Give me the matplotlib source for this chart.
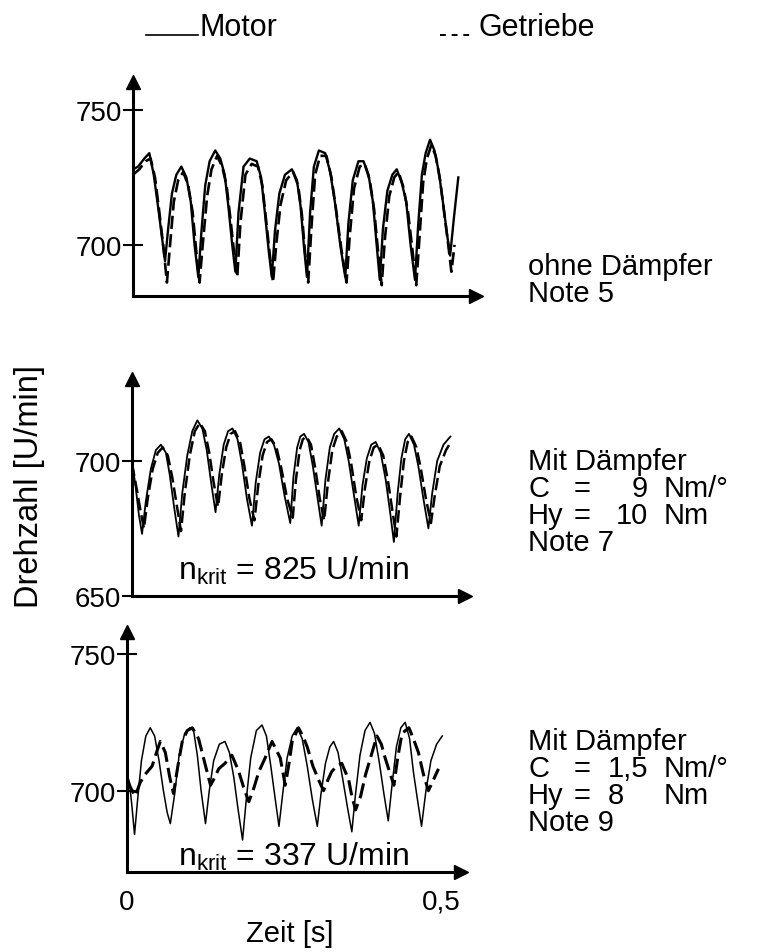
import matplotlib.pyplot as plt

plt.rcParams['font.family'] = ['Liberation Sans', 'DejaVu Sans']

# --- Panel 1: ohne Daempfer ---
t1_motor = [0.000, 0.008, 0.018, 0.026, 0.033, 0.040, 0.046, 0.051, 0.056, 0.062, 0.069, 0.077, 0.085, 0.092, 0.098,
            0.104, 0.109, 0.115, 0.122, 0.131, 0.139, 0.146, 0.152, 0.158, 0.163, 0.168, 0.176, 0.186, 0.197, 0.204,
            0.210, 0.216, 0.221, 0.226, 0.233, 0.242, 0.253, 0.261, 0.267, 0.272, 0.277, 0.282, 0.288, 0.296, 0.306,
            0.314, 0.322, 0.330, 0.338, 0.343, 0.350, 0.359, 0.367, 0.375, 0.382, 0.388, 0.393, 0.398, 0.405, 0.413,
            0.420, 0.428, 0.435, 0.442, 0.449, 0.454, 0.460, 0.466, 0.473, 0.480, 0.487, 0.494, 0.500, 0.505, 0.511,
            0.518]
n1_motor = [728, 729, 732, 734, 726, 714, 703, 694, 706, 719, 726, 729, 725, 716, 700,
            688, 705, 722, 731, 735, 732, 726, 714, 700, 690, 712, 729, 732, 731, 725,
            712, 698, 688, 705, 719, 726, 728, 724, 714, 700, 688, 712, 729, 735, 734,
            727, 715, 700, 688, 708, 724, 731, 731, 726, 716, 700, 687, 706, 720, 726,
            728, 723, 716, 700, 687, 707, 726, 734, 739, 735, 727, 715, 704, 696, 710,
            725]
t1_getr = [0.000, 0.010, 0.020, 0.028, 0.035, 0.042, 0.049, 0.054, 0.059, 0.065, 0.072, 0.080, 0.088, 0.095, 0.101,
           0.106, 0.111, 0.118, 0.125, 0.134, 0.142, 0.149, 0.155, 0.161, 0.166, 0.171, 0.179, 0.189, 0.199, 0.206,
           0.212, 0.218, 0.223, 0.228, 0.235, 0.244, 0.255, 0.263, 0.269, 0.274, 0.279, 0.284, 0.290, 0.298, 0.308,
           0.316, 0.324, 0.332, 0.340, 0.345, 0.352, 0.361, 0.369, 0.377, 0.384, 0.390, 0.396, 0.401, 0.408, 0.416,
           0.423, 0.431, 0.438, 0.445, 0.451, 0.456, 0.462, 0.468, 0.475, 0.482, 0.489, 0.496, 0.502, 0.507, 0.512]
n1_getr = [726, 728, 731, 732, 725, 712, 698, 686, 700, 716, 724, 727, 722, 712, 697,
           686, 700, 718, 728, 733, 729, 722, 710, 697, 688, 708, 726, 730, 729, 722,
           709, 696, 686, 700, 715, 724, 727, 722, 711, 697, 686, 706, 726, 733, 733,
           725, 712, 698, 686, 703, 721, 729, 730, 724, 713, 698, 685, 702, 718, 725,
           727, 721, 712, 698, 685, 702, 723, 732, 737, 733, 724, 711, 700, 690, 700]

# --- Panel 2: Mit Daempfer, C = 9 Nm/grad ---
t2_motor = [0.000, 0.006, 0.011, 0.016, 0.022, 0.030, 0.038, 0.046, 0.054, 0.060, 0.067, 0.074, 0.080, 0.088, 0.096,
            0.104, 0.112, 0.119, 0.126, 0.133, 0.139, 0.146, 0.153, 0.160, 0.168, 0.175, 0.183, 0.191, 0.197, 0.204,
            0.211, 0.218, 0.226, 0.234, 0.243, 0.252, 0.257, 0.263, 0.268, 0.274, 0.281, 0.288, 0.295, 0.302, 0.308,
            0.315, 0.322, 0.330, 0.338, 0.345, 0.353, 0.361, 0.367, 0.374, 0.381, 0.388, 0.396, 0.404, 0.411, 0.417,
            0.423, 0.429, 0.435, 0.441, 0.449, 0.456, 0.464, 0.472, 0.478, 0.486, 0.496, 0.507]
n2_motor = [700, 690, 680, 673, 685, 697, 704, 706, 703, 695, 683, 672, 688, 702, 711,
            715, 712, 704, 692, 681, 695, 706, 711, 712, 708, 699, 686, 676, 692, 703,
            708, 709, 706, 699, 687, 677, 694, 705, 709, 710, 707, 698, 687, 676, 693,
            705, 710, 712, 708, 700, 688, 676, 691, 701, 706, 707, 703, 693, 681, 670,
            688, 701, 708, 710, 706, 698, 686, 675, 688, 700, 706, 709]
t2_getr = [0.000, 0.008, 0.014, 0.019, 0.025, 0.033, 0.041, 0.049, 0.057, 0.064, 0.071, 0.078, 0.084, 0.092, 0.100,
           0.108, 0.116, 0.123, 0.130, 0.137, 0.143, 0.150, 0.157, 0.164, 0.172, 0.179, 0.187, 0.195, 0.201, 0.208,
           0.215, 0.222, 0.230, 0.238, 0.247, 0.256, 0.261, 0.267, 0.272, 0.278, 0.285, 0.292, 0.299, 0.306, 0.312,
           0.319, 0.326, 0.334, 0.342, 0.349, 0.357, 0.365, 0.371, 0.378, 0.385, 0.392, 0.400, 0.408, 0.415, 0.421,
           0.427, 0.433, 0.439, 0.445, 0.453, 0.460, 0.468, 0.476, 0.482, 0.490, 0.500, 0.508]
n2_getr = [699, 689, 681, 675, 686, 697, 703, 705, 702, 694, 684, 674, 688, 702, 711,
           714, 711, 703, 692, 683, 695, 705, 710, 711, 707, 698, 686, 678, 691, 702,
           707, 708, 705, 697, 686, 679, 693, 704, 708, 709, 706, 697, 686, 678, 692,
           704, 709, 711, 707, 699, 687, 678, 690, 700, 705, 706, 702, 692, 681, 672,
           687, 700, 707, 709, 705, 697, 686, 677, 687, 698, 704, 707]

# --- Panel 3: Mit Daempfer, C = 1,5 Nm/grad ---
t3_motor = [0.000, 0.004, 0.008, 0.012, 0.017, 0.023, 0.030, 0.037, 0.044, 0.051, 0.058, 0.064, 0.069, 0.076, 0.083,
            0.092, 0.100, 0.106, 0.112, 0.118, 0.125, 0.131, 0.138, 0.147, 0.156, 0.163, 0.170, 0.177, 0.184, 0.190,
            0.197, 0.206, 0.215, 0.222, 0.229, 0.236, 0.242, 0.248, 0.255, 0.263, 0.271, 0.279, 0.287, 0.295, 0.303,
            0.309, 0.316, 0.323, 0.329, 0.336, 0.343, 0.351, 0.358, 0.364, 0.371, 0.379, 0.387, 0.394, 0.402, 0.409,
            0.416, 0.422, 0.429, 0.436, 0.443, 0.450, 0.456, 0.463, 0.469, 0.476, 0.484, 0.493, 0.502]
n3_motor = [706, 703, 694, 684, 697, 711, 720, 723, 720, 711, 700, 692, 688, 699, 713,
            721, 723, 722, 713, 700, 688, 700, 711, 717, 718, 714, 705, 693, 682, 697,
            712, 722, 724, 720, 709, 697, 687, 699, 712, 720, 723, 719, 709, 697, 687,
            699, 710, 716, 718, 714, 705, 694, 685, 699, 713, 722, 725, 721, 710, 699,
            689, 702, 716, 723, 725, 719, 707, 696, 687, 700, 711, 717, 720]
t3_getr = [0.000, 0.006, 0.013, 0.021, 0.029, 0.040, 0.047, 0.053, 0.061, 0.068, 0.074, 0.081, 0.088, 0.096, 0.104,
           0.114, 0.124, 0.133, 0.140, 0.146, 0.156, 0.167, 0.178, 0.186, 0.194, 0.202, 0.210, 0.220, 0.231, 0.244,
           0.252, 0.258, 0.263, 0.273, 0.280, 0.287, 0.296, 0.305, 0.313, 0.320, 0.326, 0.334, 0.342, 0.353, 0.358,
           0.364, 0.372, 0.380, 0.389, 0.398, 0.405, 0.411, 0.418, 0.425, 0.431, 0.438, 0.449, 0.456, 0.464, 0.472,
           0.480, 0.488, 0.496]
n3_getr = [704, 701, 698, 703, 706, 709, 714, 718, 714, 705, 699, 709, 718, 722, 723,
           719, 710, 702, 705, 708, 710, 713, 707, 701, 696, 701, 707, 712, 718, 712,
           702, 710, 718, 723, 720, 716, 709, 704, 700, 704, 707, 709, 710, 704, 698,
           693, 698, 706, 713, 720, 717, 712, 707, 702, 712, 721, 723, 719, 714, 706,
           700, 704, 708]

notes1 = [["ohne Dämpfer"], ["Note 5"]]
notes2 = [["Mit Dämpfer"], ["C", "=", "9", "Nm/°"], ["Hy", "=", "10", "Nm"], ["Note 7"]]
notes3 = [["Mit Dämpfer"], ["C", "=", "1,5", "Nm/°"], ["Hy", "=", "8", "Nm"], ["Note 9"]]

panels = [
    dict(tm=t1_motor, nm=n1_motor, tg=t1_getr, ng=n1_getr, ylim=(681, 760.4), yticks=[700, 750],
         rect=[133, 83, 476, 297], nkrit=None, notes=notes1, note_y=275, lw=(1.7, 1.9), val=None),
    dict(tm=t2_motor, nm=n2_motor, tg=t2_getr, ng=n2_getr, ylim=(650, 730.3), yticks=[650, 700],
         rect=[132, 380, 465, 597], nkrit="825", nk_up=17, notes=notes2, note_y=470, lw=(1.3, 1.8),
         val=(648, "right")),
    dict(tm=t3_motor, nm=n3_motor, tg=t3_getr, ng=n3_getr, ylim=(670.3, 758), yticks=[700, 750],
         rect=[127, 633, 461, 873], nkrit="337", nk_up=7, notes=notes3, note_y=750, lw=(1.1, 2.2),
         val=(608, "left")),
]

W, H = 765, 953
px_per_s = 628
fig = plt.figure(figsize=(W / 100, H / 100), dpi=100)
fs = 20
fs_note = 21

for i, p in enumerate(panels):
    x0, y0, x1, y1 = p["rect"]
    ax = fig.add_axes([x0 / W, 1 - y1 / H, (x1 - x0) / W, (y1 - y0) / H])
    ax.plot(p["tm"], p["nm"], color="black", lw=p["lw"][0])
    ax.plot(p["tg"], p["ng"], color="black", lw=p["lw"][1], dashes=(5, 2))
    ax.set_xlim(0, (x1 - x0) / px_per_s)
    ax.set_ylim(*p["ylim"])
    for s in ["top", "right"]:
        ax.spines[s].set_visible(False)
    for s in ["left", "bottom"]:
        ax.spines[s].set_linewidth(2.2)
    # arrow heads on the axes
    ax.plot(1, 0, ">k", ms=10, transform=ax.transAxes, clip_on=False)
    ax.plot(0, 1, "^k", ms=10, transform=ax.transAxes, clip_on=False)
    ax.set_yticks(p["yticks"])
    ax.tick_params(axis="y", direction="inout", length=14, width=1.5, labelsize=fs, pad=1)
    if i == 2:
        ax.set_xticks([0, 0.5])
        ax.set_xticklabels(["0", "0,5"])
        ax.tick_params(axis="x", length=0, labelsize=fs, pad=12)
    else:
        ax.set_xticks([])
    if p["nkrit"]:
        fig.text(178 / W, 1 - (y1 - p["nk_up"]) / H, r"n$_\mathregular{krit}$ = " + p["nkrit"] + " U/min",
                 fontsize=23, ha="left", va="baseline")

    # labels on the right
    for k, line in enumerate(p["notes"]):
        yy = 1 - (p["note_y"] + k * 27) / H
        if len(line) == 1:
            fig.text(528 / W, yy, line[0], fontsize=fs_note, va="baseline")
        else:
            fig.text(528 / W, yy, line[0], fontsize=fs_note, va="baseline")
            fig.text(574 / W, yy, line[1], fontsize=fs_note, va="baseline")
            fig.text(p["val"][0] / W, yy, line[2], fontsize=fs_note, va="baseline", ha=p["val"][1])
            fig.text(664 / W, yy, line[3], fontsize=fs_note, va="baseline")

# legend
fig.add_artist(plt.Line2D([146 / W, 198 / W], [1 - 36 / H, 1 - 36 / H], color="black", lw=1.2))
fig.text(199 / W, 1 - 36 / H, "Motor", fontsize=22, va="baseline")
fig.add_artist(plt.Line2D([440 / W, 474 / W], [1 - 36 / H, 1 - 36 / H], color="black", lw=1.4, dashes=(3, 3)))
fig.text(478 / W, 1 - 36 / H, "Getriebe", fontsize=22, va="baseline")

fig.text(30 / W, 1 - 486 / H, "Drehzahl [U/min]", fontsize=23.5, rotation=90, ha="center", va="center")
fig.text(290 / W, 1 - 934 / H, "Zeit [s]", fontsize=21, ha="center", va="center")

fig.savefig("out.png", dpi=100)
